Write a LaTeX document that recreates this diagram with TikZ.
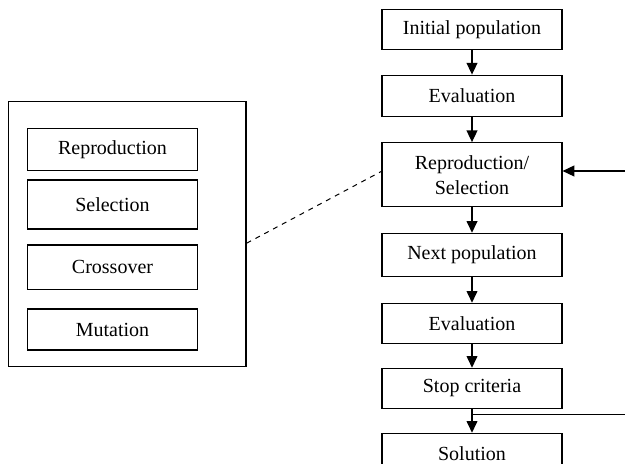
\documentclass[tikz,border=0pt]{standalone}
\usepackage{fontspec}
\setmainfont{Liberation Serif}
\usetikzlibrary{arrows.meta}
\begin{document}
\begin{tikzpicture}[x=0.6pt,y=-0.6pt,
		stepbox/.style={draw,line width=0.7pt,inner sep=0pt,align=center,font=\fontsize{12}{15}\selectfont},
		flowbox/.style={stepbox,minimum width=108pt},
		opbox/.style={stepbox,minimum width=101.8pt},
		flow/.style={line width=0.7pt,-{Triangle[length=7pt,width=6.5pt]}}]
		\useasboundingbox (0,0) rectangle (625,464);
		\node[flowbox,minimum height=24pt] (init) at (472,29.3) {Initial population};
		\node[flowbox,minimum height=25pt] (eval1) at (472,96) {Evaluation};
		\node[flowbox,minimum height=38.4pt] (rs) at (472,174.7) {Reproduction/\\Selection};
		\node[flowbox,minimum height=26pt] (next) at (472,255) {Next population};
		\node[flowbox,minimum height=24pt] (eval2) at (472,323.3) {Evaluation};
		\node[flowbox,minimum height=24pt] (stop) at (472,388.3) {Stop criteria};
		\node[flowbox,minimum height=24pt] (sol) at (472,453.3) {Solution};
		\node[draw,line width=0.7pt,minimum width=142.6pt,minimum height=159pt] (ops) at (127.2,234.2) {};
		\node[opbox,minimum height=25.4pt] (repro) at (112.5,149.5) {Reproduction};
		\node[opbox,minimum height=29.4pt] (sel) at (112.5,204.5) {Selection};
		\node[opbox,minimum height=26.6pt] (cross) at (112.5,267.2) {Crossover};
		\node[opbox,minimum height=24.6pt] (mut) at (112.5,329.5) {Mutation};
		\draw[flow] (init) -- (eval1);
		\draw[flow] (eval1) -- (rs);
		\draw[flow] (rs) -- (next);
		\draw[flow] (next) -- (eval2);
		\draw[flow] (eval2) -- (stop);
		\draw[flow] (stop) -- (sol);
		\coordinate (fbout) at (625,414.3);
		\coordinate (fbin) at (625,171);
		\draw[line width=0.7pt] (stop.south |- fbout) -- (fbout);
		\draw[flow] (fbin) -- (fbin -| rs.east);
		\draw[dashed,line width=0.6pt] ([yshift=-5.4pt]ops.east) -- ([yshift=2pt]rs.west);
	\end{tikzpicture}
\end{document}
